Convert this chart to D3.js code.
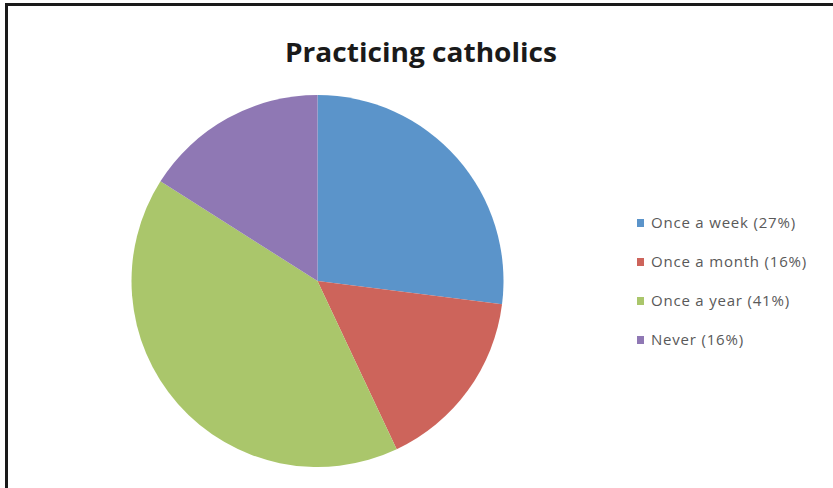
<!DOCTYPE html>
<html>
<head>
<meta charset="utf-8">
<script src="https://cdn.jsdelivr.net/npm/d3@7"></script>
<style>
  html, body { margin: 0; padding: 0; background: #fff; }
  svg { display: block; }
</style>
</head>
<body>
<div id="chart"></div>
<script>
const categories = ['Once a week (27%)', 'Once a month (16%)', 'Once a year (41%)', 'Never (16%)'];
const values = [27, 16, 41, 16];
const colors = ['#5b94ca', '#cd645b', '#aac66b', '#8f78b4'];

const w = 833;
const h = 488;
const cx = 317.5;
const cy = 281;
const radius = 186;

const svg = d3.select('#chart')
  .append('svg')
  .attr('width', w)
  .attr('height', h);

// frame (cropped at right and bottom)
svg.append('rect')
  .attr('x', 6.5)
  .attr('y', 4.5)
  .attr('width', w)
  .attr('height', h)
  .attr('fill', 'none')
  .attr('stroke', '#1a1a1a')
  .attr('stroke-width', 3);

svg.append('text')
  .attr('x', 421)
  .attr('y', 62)
  .attr('text-anchor', 'middle')
  .attr('font-family', 'Open Sans, sans-serif')
  .attr('font-weight', 'bold')
  .attr('font-size', 27)
  .attr('fill', '#1a1a1a')
  .attr('textLength', 272)
  .attr('lengthAdjust', 'spacingAndGlyphs')
  .text('Practicing catholics');

const pie = d3.pie().sort(null).value(d => d);
const arc = d3.arc().innerRadius(0).outerRadius(radius);

svg.append('g')
  .attr('transform', `translate(${cx},${cy})`)
  .selectAll('path')
  .data(pie(values))
  .enter()
  .append('path')
  .attr('d', arc)
  .attr('fill', (d, i) => colors[i]);

const legendY = d3.scalePoint()
  .domain(categories)
  .range([223, 340]);

const legend = svg.append('g')
  .selectAll('g')
  .data(categories)
  .enter()
  .append('g')
  .attr('transform', d => `translate(637,${legendY(d)})`);

legend.append('rect')
  .attr('x', 0)
  .attr('y', -4)
  .attr('width', 7)
  .attr('height', 8)
  .attr('fill', (d, i) => colors[i]);

legend.append('text')
  .attr('x', 14)
  .attr('y', 0)
  .attr('dy', '0.35em')
  .attr('font-family', 'Open Sans, sans-serif')
  .attr('font-size', 15)
  .attr('letter-spacing', 0.8)
  .attr('fill', '#595959')
  .text(d => d);
</script>
</body>
</html>
